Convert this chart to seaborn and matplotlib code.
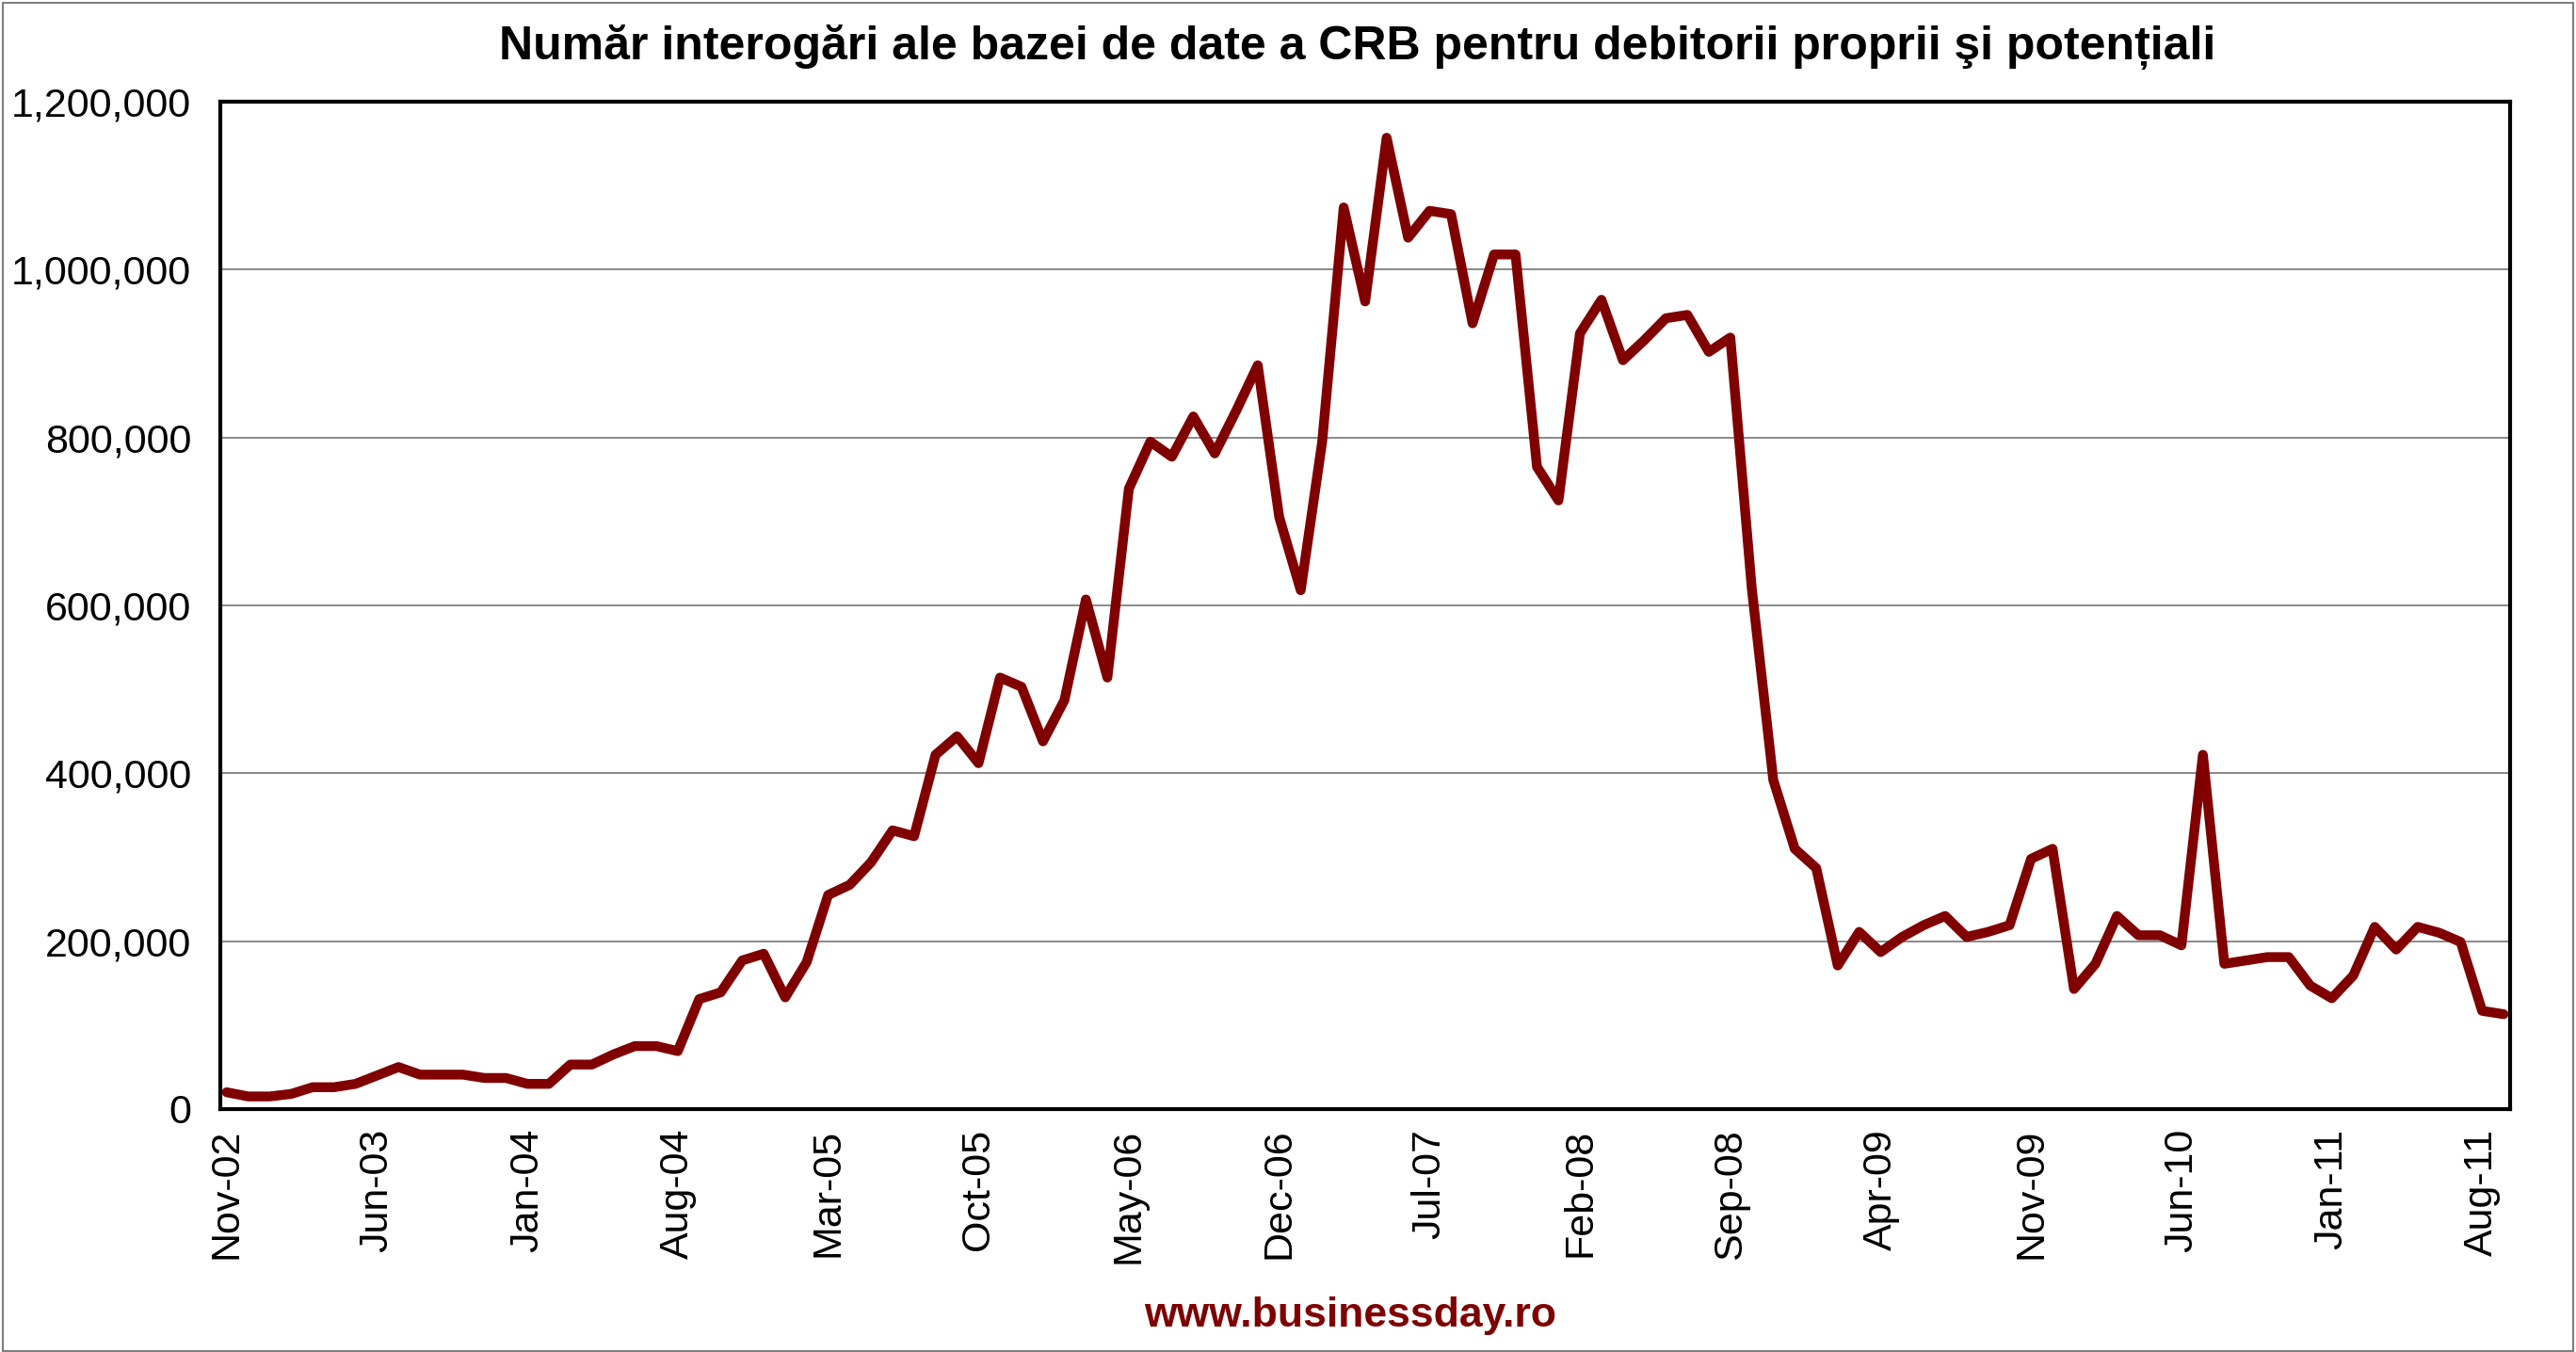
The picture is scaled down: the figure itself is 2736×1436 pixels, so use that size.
import matplotlib
matplotlib.use("Agg")
import matplotlib.pyplot as plt
import seaborn as sns
import pandas as pd
from matplotlib.ticker import FuncFormatter
from matplotlib.patches import Rectangle

# ---- data (monthly, Nov-02 .. Sep-11) ----
months_start = "2002-11"
n_months = 107
values = [
    20000, 15000, 15000, 18000, 26000, 26000, 30000, 40000, 50000, 41000,
    41000, 41000, 37000, 37000, 30000, 30000, 53000, 53000, 65000, 75000,
    75000, 69000, 131000, 139000, 177000, 185000, 133000, 175000, 255000, 267000,
    294000, 332000, 325000, 422000, 444000, 412000, 514000, 503000, 438000, 487000,
    607000, 514000, 739000, 795000, 777000, 825000, 781000, 832000, 886000, 705000,
    618000, 795000, 1074000, 962000, 1157000, 1038000, 1070000, 1066000, 936000, 1018000,
    1018000, 765000, 725000, 924000, 964000, 892000, 916000, 942000, 946000, 902000,
    919000, 620000, 392000, 310000, 287000, 171000, 211000, 187000, 205000, 219000,
    230000, 205000, 211000, 219000, 298000, 310000, 143000, 173000, 230000, 207000,
    207000, 195000, 422000, 173000, 177000, 181000, 181000, 147000, 132000, 159000,
    217000, 190000, 217000, 210000, 199000, 117000, 113000,
]
tick_labels = ["Nov-02", "Jun-03", "Jan-04", "Aug-04", "Mar-05", "Oct-05", "May-06",
               "Dec-06", "Jul-07", "Feb-08", "Sep-08", "Apr-09", "Nov-09", "Jun-10",
               "Jan-11", "Aug-11"]
tick_step = 7
y_ticks = [0, 200000, 400000, 600000, 800000, 1000000, 1200000]

title = "Număr interogări ale bazei de date a CRB pentru debitorii proprii şi potențiali"
footer = "www.businessday.ro"

df = pd.DataFrame({"idx": range(len(values)), "value": values})

sns.set_theme(style="white")
plt.rcParams["font.family"] = ["Liberation Sans", "DejaVu Sans"]

fig = plt.figure(figsize=(27.36, 14.36), dpi=100)
ax = fig.add_axes([0.0855, 0.1797, 0.9744 - 0.0855, 0.9248 - 0.1797])

sns.lineplot(data=df, x="idx", y="value", ax=ax, color="#800000", linewidth=7.5,
             solid_joinstyle="round", solid_capstyle="round")

ax.set_xlim(-0.3, len(values) - 1 + 0.3)
ax.set_ylim(0, 1200000)
ax.set_yticks(y_ticks)
ax.yaxis.set_major_formatter(FuncFormatter(lambda v, p: f"{int(v):,}"))
ax.set_xticks([i * tick_step for i in range(len(tick_labels))])
ax.set_xticklabels(tick_labels, rotation=90, va="top", ha="center")
ax.tick_params(axis="y", length=0, pad=22, labelsize=31, colors="black")
ax.tick_params(axis="x", length=0, pad=15, labelsize=31, colors="black")
ax.set_xlabel("")
ax.set_ylabel("")

ax.grid(axis="y", color="#808080", linewidth=1.3)
ax.grid(axis="x", visible=False)
for s in ax.spines.values():
    s.set_visible(True)
    s.set_color("black")
    s.set_linewidth(3)

fig.text(0.527, 0.965, title, ha="center", va="center", fontsize=36,
         fontweight="bold", color="black")
fig.text(0.524, 0.027, footer, ha="center", va="center", fontsize=32,
         fontweight="bold", color="#7f0000")

fig.patches.append(Rectangle((0.001, 0.001), 0.998, 0.997, transform=fig.transFigure,
                             fill=False, edgecolor="#808080", linewidth=1.5))

fig.savefig("out.png", dpi=100)
